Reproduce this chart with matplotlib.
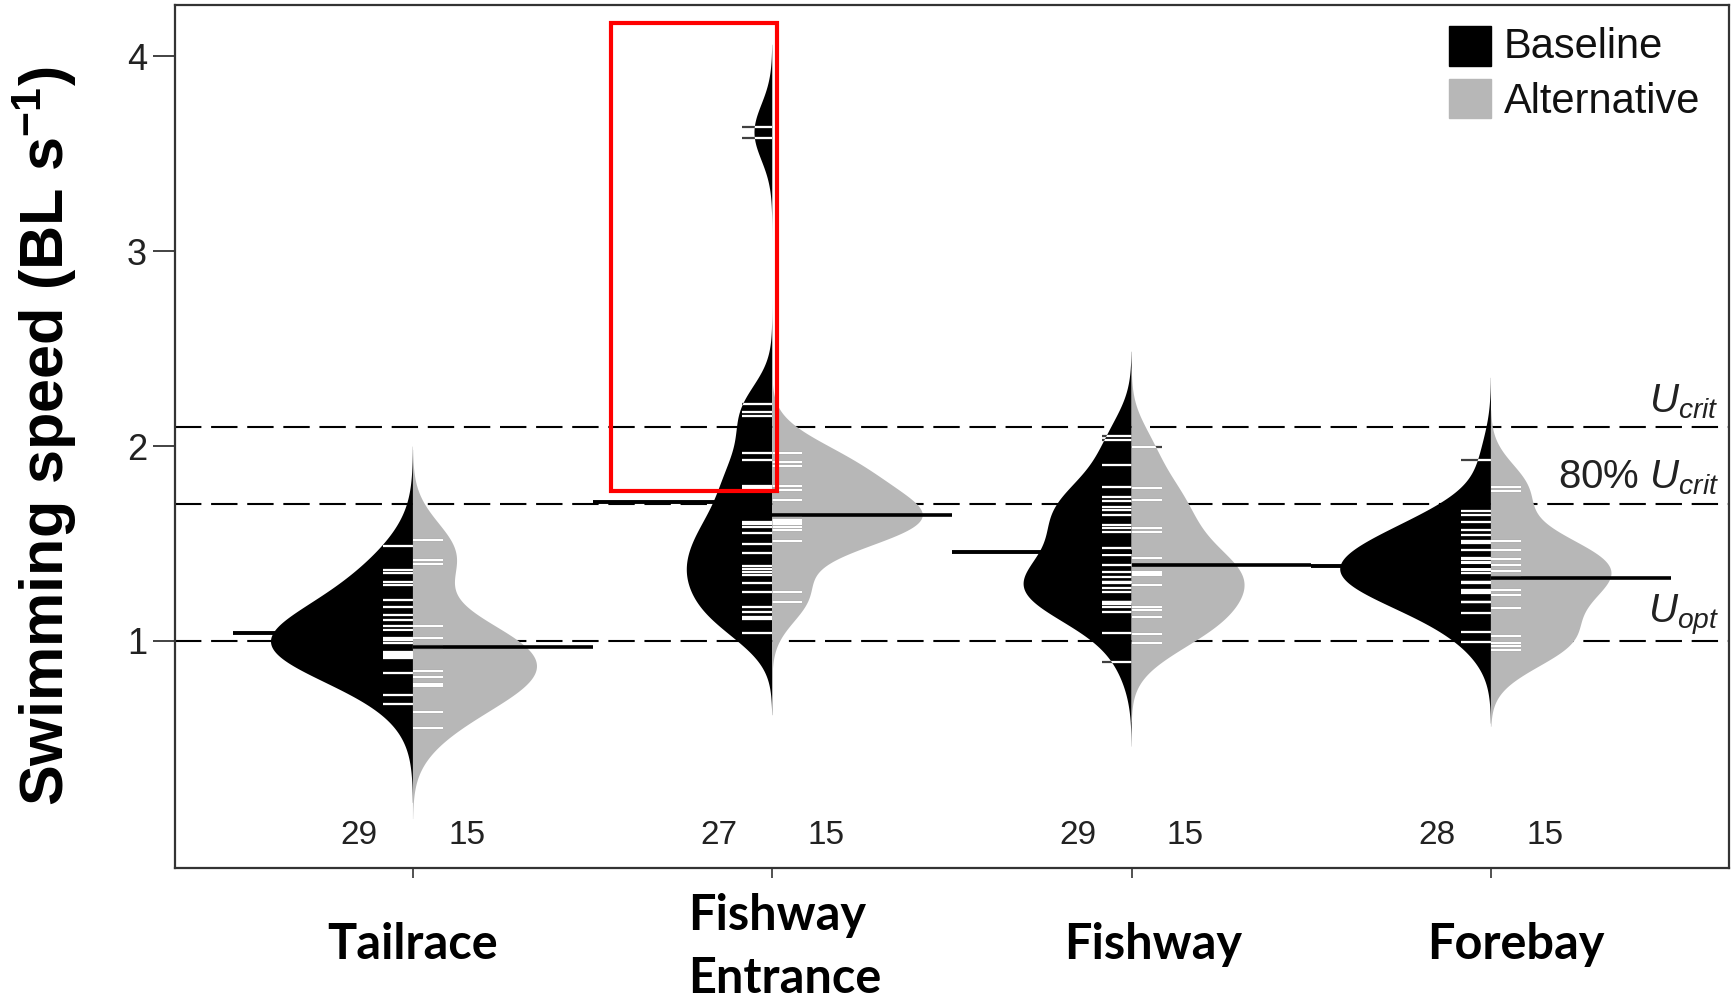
import numpy as np
import matplotlib.pyplot as plt
from matplotlib.patches import Polygon, Rectangle

plt.rcParams['font.family'] = ['Liberation Sans', 'DejaVu Sans']
plt.rcParams['mathtext.fontset'] = 'custom'
plt.rcParams['mathtext.rm'] = 'Liberation Sans'
plt.rcParams['mathtext.it'] = 'Liberation Sans:italic'
plt.rcParams['mathtext.bf'] = 'Liberation Sans:bold'
plt.rcParams['lines.scale_dashes'] = False

# data (swimming speed, BL/s)
sites = ["Tailrace", "Fishway\nEntrance", "Fishway", "Forebay"]

baseline = [
    [1.487, 1.362, 1.35, 1.30, 1.288, 1.209, 1.175, 1.132, 1.106, 1.075,
     1.055, 1.046, 1.014, 1.01, 1.005, 1.002, 0.99, 0.942, 0.935, 0.932,
     0.93, 0.925, 0.921, 0.915, 0.911, 0.92, 0.835, 0.72, 0.678],
    [3.64, 3.58, 2.216, 2.173, 2.152, 1.964, 1.926, 1.796, 1.79, 1.784,
     1.612, 1.60, 1.586, 1.552, 1.497, 1.453, 1.384, 1.37, 1.355, 1.34,
     1.295, 1.252, 1.172, 1.149, 1.123, 1.11, 1.038],
    [2.049, 2.032, 1.904, 1.787, 1.736, 1.719, 1.689, 1.672, 1.647, 1.595,
     1.578, 1.561, 1.478, 1.441, 1.389, 1.355, 1.329, 1.30, 1.30, 1.295,
     1.27, 1.25, 1.20, 1.198, 1.19, 1.175, 1.149, 1.038, 0.892],
    [1.93, 1.664, 1.647, 1.612, 1.569, 1.544, 1.514, 1.501, 1.467, 1.424,
     1.42, 1.406, 1.40, 1.389, 1.37, 1.364, 1.35, 1.30, 1.30, 1.295,
     1.261, 1.25, 1.247, 1.20, 1.198, 1.144, 1.046, 0.995],
]
alternative = [
    [1.515, 1.415, 1.395, 1.077, 1.012, 0.975, 0.965, 0.965, 0.846, 0.812,
     0.78, 0.78, 0.768, 0.637, 0.55],
    [1.964, 1.916, 1.895, 1.796, 1.772, 1.724, 1.641, 1.62, 1.612, 1.60,
     1.583, 1.57, 1.514, 1.252, 1.2],
    [1.993, 1.782, 1.724, 1.578, 1.558, 1.424, 1.352, 1.345, 1.337, 1.285,
     1.175, 1.16, 1.12, 1.035, 0.987],
    [1.787, 1.77, 1.512, 1.465, 1.42, 1.389, 1.358, 1.33, 1.261, 1.233,
     1.167, 1.027, 0.99, 0.975, 0.955],
]
baseline_mean = [1.04, 1.71, 1.455, 1.386]
alternative_mean = [0.966, 1.648, 1.39, 1.324]

ref_values = [2.1, 1.7, 1.0]
ref_labels = [r"$U_{crit}$", r"80% $U_{crit}$", r"$U_{opt}$"]

GREY = '#b7b7b7'
bw_base = [0.17, 0.14, 0.145, 0.14]
bw_alt = [0.155, 0.13, 0.135, 0.132]
SCALE = 0.24          # bean half-width per unit density
LINELEN = 0.0835


def kde(values, bw, cut=3):
    v = np.asarray(values)
    y = np.linspace(v.min() - cut * bw, v.max() + cut * bw, 500)
    d = np.exp(-0.5 * ((y[:, None] - v[None, :]) / bw) ** 2).sum(axis=1)
    d /= len(v) * bw * np.sqrt(2 * np.pi)
    return y, d


fig = plt.figure(figsize=(17.32, 9.99), dpi=100)
ax = fig.add_axes([0.101, 0.1316, 0.8973, 0.8634])

for yv in ref_values:
    ax.axhline(yv, color='black', lw=1.5, dashes=(19, 7), zorder=1)

for i in range(len(sites)):
    c = i + 1
    sides = [(baseline[i], bw_base[i], -1, 'black'),
             (alternative[i], bw_alt[i], 1, GREY)]
    for vals, bw, side, col in sides:
        y, d = kde(vals, bw)
        xs = c + side * d * SCALE
        poly = Polygon(np.column_stack([np.r_[xs, np.full(len(y), c)],
                                        np.r_[y, y[::-1]]]),
                       closed=True, facecolor=col, edgecolor='none', zorder=2)
        ax.add_patch(poly)
        x0, x1 = sorted([c, c + side * LINELEN])
        ax.hlines(vals, x0, x1, colors='#404040', lw=1.6, zorder=3)
        wl = ax.hlines(vals, x0, x1, colors='white', lw=1.6, zorder=4)
        wl.set_clip_path(poly)
    ax.hlines(baseline_mean[i], c - 0.5, c, colors='black', lw=2.8, zorder=5)
    ax.hlines(alternative_mean[i], c, c + 0.5, colors='black', lw=2.6, zorder=5)
    ax.text(c - 0.15, 0.0, str(len(baseline[i])), ha='center', va='center',
            fontsize=24, color='#222222')
    ax.text(c + 0.15, 0.0, str(len(alternative[i])), ha='center', va='center',
            fontsize=24, color='#222222')

# reference line labels
ref_text_y = [2.13, 1.74, 1.02]
for yv, lab in zip(ref_text_y, ref_labels):
    ax.text(4.635, yv, lab, ha='right', va='bottom', fontsize=29, color='#222222')

# highlight box
ax.add_patch(Rectangle((1.55, 1.767), 0.464, 2.404, fill=False,
                       edgecolor='#ff0000', lw=3, zorder=6))

ax.set_xlim(0.3376, 4.6627)
ax.set_ylim(-0.164, 4.264)
ax.set_yticks([1, 2, 3, 4])
ax.set_xticks([1, 2, 3, 4])
ax.set_xticklabels([])
ax.tick_params(axis='y', labelsize=26, length=16, width=1.2, pad=4, colors='#222222')
ax.tick_params(axis='x', length=7, width=1.2, colors='#333333')
for sp in ax.spines.values():
    sp.set_linewidth(1.6)
    sp.set_color('#333333')

# site labels
tr = ax.get_xaxis_transform()
lab_font = dict(family=['Lato', 'DejaVu Sans'], fontweight='bold', fontsize=35)
ax.text(1.0, -0.0894, sites[0], transform=tr, ha='center', va='center', **lab_font)
fe1, fe2 = sites[1].split("\n")
ax.text(1.765, -0.0557, fe1, transform=tr, ha='left', va='center', **lab_font)
ax.text(1.765, -0.129, fe2, transform=tr, ha='left', va='center', **lab_font)
ax.text(3.06, -0.0894, sites[2], transform=tr, ha='center', va='center', **lab_font)
ax.text(4.07, -0.0894, sites[3], transform=tr, ha='center', va='center', **lab_font)

fig.text(0.026, 0.5636, r"Swimming speed (BL s$^{\mathbf{-1}}$)", rotation=90,
         ha='center', va='center', fontsize=44, fontweight='bold')

# legend
fig.patches.append(Rectangle((0.8366, 0.9339), 0.0242, 0.0405, color='black',
                             transform=fig.transFigure, figure=fig))
fig.patches.append(Rectangle((0.8366, 0.8819), 0.0242, 0.0390, color=GREY,
                             transform=fig.transFigure, figure=fig))
fig.text(0.8684, 0.9525, "Baseline", ha='left', va='center', fontsize=30, color='#111111')
fig.text(0.8684, 0.8983, "Alternative", ha='left', va='center', fontsize=30, color='#111111')

fig.savefig("out.png", dpi=100)
